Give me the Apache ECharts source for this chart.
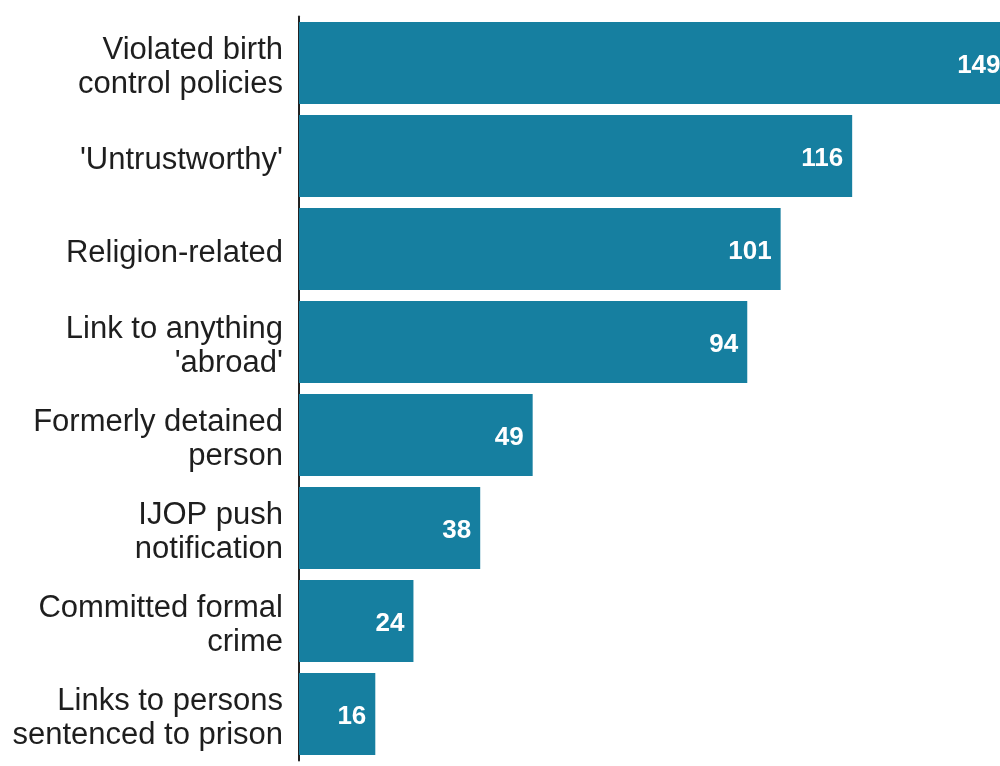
<!DOCTYPE html>
<html><head><meta charset="utf-8">
<script src="https://cdn.jsdelivr.net/npm/echarts@6/dist/echarts.min.js"></script>
<style>html,body{margin:0;padding:0;background:#fff}#c{width:1000px;height:766px}</style>
</head><body><div id="c"></div>
<script>
const categories = [
  "Violated birth\ncontrol policies",
  "'Untrustworthy'",
  "Religion-related",
  "Link to anything\n'abroad'",
  "Formerly detained\nperson",
  "IJOP push\nnotification",
  "Committed formal\ncrime",
  "Links to persons\nsentenced to prison"
];
const values = [149, 116, 101, 94, 49, 38, 24, 16];

const chart = echarts.init(document.getElementById('c'));
chart.setOption({
  animation: false,
  grid: { left: 299, right: 0, top: 16.5, bottom: 5.5 },
  xAxis: { type: 'value', min: 0, max: 147, show: false },
  yAxis: {
    type: 'category', inverse: true, data: categories,
    axisLine: { show: true, lineStyle: { color: '#222', width: 2 } },
    axisTick: { show: false },
    axisLabel: {
      margin: 16, align: 'right',
      formatter: v => '{s| }\n' + v.split('\n').map(t => '{a|' + t + '}').join('\n'),
      rich: {
        s: { fontSize: 1, lineHeight: 8 },
        a: { fontFamily: 'Liberation Sans, Arial, sans-serif', fontSize: 31, lineHeight: 34, color: '#1e1e1e', align: 'right' }
      }
    }
  },
  series: [{
    type: 'bar', data: values, barCategoryGap: '12%', clip: false,
    itemStyle: { color: '#167fa0' },
    label: { show: true, position: 'insideRight', distance: 9, offset: [0, 3], color: '#fff', fontWeight: 'bold', fontSize: 26, fontFamily: 'Liberation Sans, Arial, sans-serif' }
  }]
});
</script></body></html>
